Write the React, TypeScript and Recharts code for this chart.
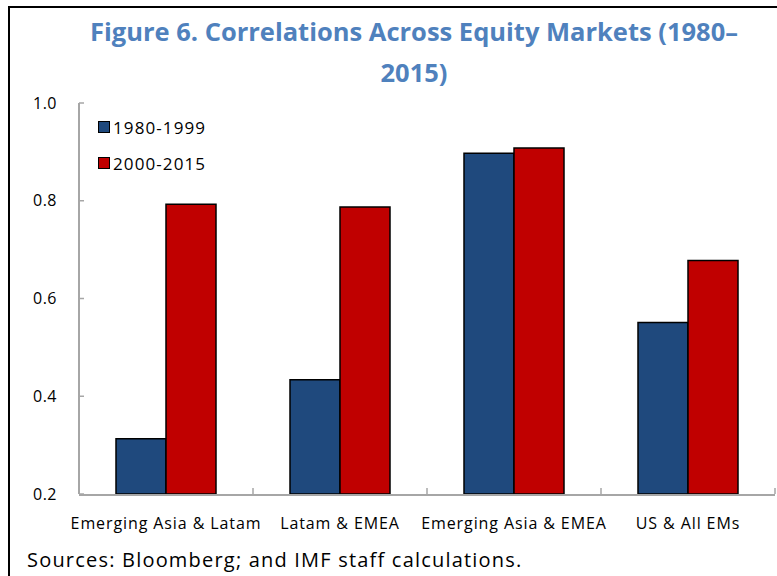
import { BarChart, Bar, XAxis, YAxis, Legend } from "recharts";

const categories = ["Emerging Asia & Latam", "Latam & EMEA", "Emerging Asia & EMEA", "US & All EMs"];
const early = [0.313, 0.434, 0.897, 0.551];
const late = [0.793, 0.787, 0.908, 0.678];
const yTicks = [0.2, 0.4, 0.6, 0.8, 1.0];
const bounds = [0, 1, 2, 3, 4];

const data = categories.map((name, i) => ({ idx: i, name, early: early[i], late: late[i] }));

const BLUE = "#1F497D";
const RED = "#C00000";
const AXIS = "#a6a6a6";
const FONT = "'Open Sans', sans-serif";

function LegendBox({ payload }: any) {
  return (
    <div style={{ fontFamily: FONT, fontSize: 17, color: "#000", letterSpacing: 1.1 }}>
      {(payload || []).map((p: any) => (
        <div key={p.value} style={{ display: "flex", alignItems: "center", height: 36 }}>
          <span style={{ width: 10, height: 10, background: p.color, border: "1.5px solid #000", marginRight: 3 }} />
          <span>{p.value}</span>
        </div>
      ))}
    </div>
  );
}

export default function App() {
  return (
    <div style={{ position: "absolute", left: 0, top: 0, width: 777, height: 576, background: "#fff", overflow: "hidden" }}>
      <div style={{ position: "absolute", left: 8, top: 6, width: 800, height: 600, borderLeft: "2px solid #000", borderTop: "2px solid #000" }} />
      <div
        style={{
          position: "absolute", left: 0, top: 11, width: 828, textAlign: "center",
          fontFamily: FONT, fontWeight: 700, fontSize: 25.5, lineHeight: "41px", color: "#4F81BD",
        }}
      >
        Figure 6. Correlations Across Equity Markets (1980–
        <br />
        2015)
      </div>
      <BarChart
        width={777}
        height={576}
        data={data}
        margin={{ top: 103, right: 2, left: 0, bottom: 51 }}
        barGap={0}
        barSize={50}
        style={{ position: "absolute", left: 0, top: 0 }}
      >
        <XAxis
          xAxisId="bound"
          type="number"
          dataKey="idx"
          domain={[0, 4]}
          ticks={bounds}
          height={1}
          axisLine={false}
          tickSize={-6}
          tickLine={{ stroke: AXIS, strokeWidth: 1.5 }}
          tickFormatter={() => ""}
        />
        <XAxis
          xAxisId="cat"
          dataKey="name"
          height={30}
          interval={0}
          axisLine={{ stroke: AXIS, strokeWidth: 2 }}
          tickLine={false}
          tickSize={0}
          tickMargin={23}
          tick={{ fill: "#000", fontSize: 16, fontFamily: FONT, letterSpacing: 0.9 }}
        />
        <YAxis
          domain={[0.2, 1.0]}
          ticks={yTicks}
          width={79}
          axisLine={{ stroke: AXIS, strokeWidth: 2 }}
          tickLine={{ stroke: AXIS, strokeWidth: 1.5 }}
          tickSize={-5}
          tickMargin={27}
          tickFormatter={(v: number) => v.toFixed(1)}
          tick={{ fill: "#000", fontSize: 16, fontFamily: FONT, letterSpacing: 0.5 }}
        />
        <Legend
          layout="vertical"
          align="center"
          verticalAlign="middle"
          content={<LegendBox />}
          wrapperStyle={{ left: 98, top: 109, width: 160 }}
        />
        <Bar xAxisId="cat" dataKey="early" name="1980-1999" fill={BLUE} stroke="#000" strokeWidth={1.5} isAnimationActive={false} />
        <Bar xAxisId="cat" dataKey="late" name="2000-2015" fill={RED} stroke="#000" strokeWidth={1.5} isAnimationActive={false} />
      </BarChart>
      <div style={{ position: "absolute", left: 27, top: 546, fontFamily: FONT, fontSize: 20, color: "#000", whiteSpace: "nowrap", letterSpacing: 1.2 }}>
        Sources: Bloomberg; and IMF staff calculations.
      </div>
    </div>
  );
}
